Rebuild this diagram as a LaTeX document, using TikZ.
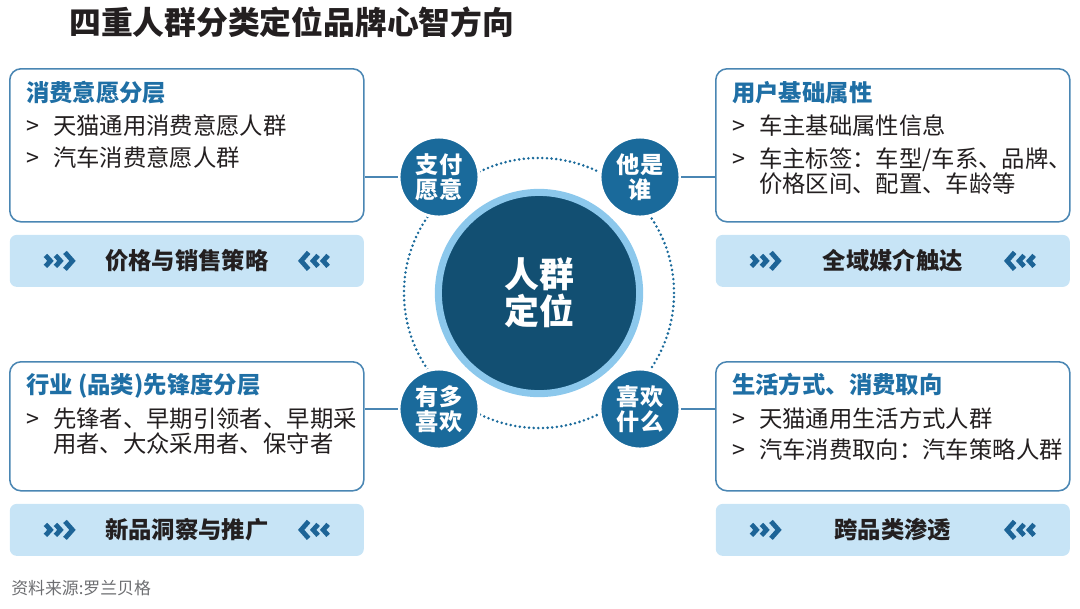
\documentclass[tikz,border=0pt]{standalone}
\usepackage{fontspec}
\setmainfont{Noto Sans CJK SC}
\definecolor{boxline}{HTML}{4A86B3}
\definecolor{headblue}{HTML}{1F6FA5}
\definecolor{dotblue}{HTML}{1A6A9B}
\definecolor{coreblue}{HTML}{124F72}
\definecolor{ringblue}{HTML}{8CC8EC}
\definecolor{barfill}{HTML}{C7E4F6}
\definecolor{chevblue}{HTML}{1D6497}
\definecolor{inkdark}{HTML}{231F20}
\definecolor{srcgray}{HTML}{6D6E71}
\usetikzlibrary{calc, positioning}
\newcommand{\itm}{>\hspace{0.6em}}
\newcommand{\chevrons}[2]{%
  \begin{scope}[shift={#1}, xscale=#2]
    \draw[chev] (0,-5.5) -- (5,0) -- (0,5.5);
    \draw[chev] (10,-5.5) -- (15,0) -- (10,5.5);
    \draw[chev] (19.5,-8.5) -- (27,0) -- (19.5,8.5);
  \end{scope}}

\begin{document}
\begin{tikzpicture}[x=0.025cm, y=-0.025cm,
  infobox/.style={draw=boxline, line width=1.1pt, fill=white, rounded corners=8pt,
                  minimum width=8.85cm, inner sep=0pt, anchor=north west},
  bar/.style={fill=barfill, rounded corners=5pt, minimum width=8.85cm,
              minimum height=1.3cm, text=inkdark,
              font=\fontsize{16.6}{18}\selectfont\bfseries},
  boxtext/.style={anchor=north west, inner sep=0pt, align=left, text=inkdark,
                  font=\fontsize{16.6}{17.7}\selectfont},
  smallc/.style={circle, fill=dotblue, draw=white, line width=2.1pt, minimum size=2cm,
                 inner sep=0pt, align=center, text=white,
                 font=\fontsize{16.5}{17.7}\selectfont\bfseries},
  core/.style={circle, fill=coreblue, draw=ringblue, line width=5pt, minimum size=5.03cm,
               inner sep=0pt, align=center, text=white,
               font=\fontsize{24.8}{26.2}\selectfont\bfseries},
  ring/.style={draw=dotblue, line width=2pt, line cap=round, dash pattern=on 0pt off 3.3pt},
  link/.style={draw=boxline, line width=1.1pt},
  chev/.style={draw=chevblue, line width=3.4pt},
]
\useasboundingbox (0,0) rectangle (1080,608);

\node[anchor=west, inner sep=0pt, text=inkdark, font=\fontsize{22.6}{24}\selectfont\bfseries]
  (title) at (69,22) {四重人群分类定位品牌心智方向};

\node[infobox, minimum height=3.825cm] (tl) at (9,68) {};
\node[infobox, minimum height=3.825cm] (tr) at (715,68) {};
\node[infobox, minimum height=3.225cm] (bl) at (9,361) {};
\node[infobox, minimum height=3.225cm] (br) at (715,361) {};

\node[boxtext] (tltxt) at ($(tl.north west)+(17,13)$) {
  {\bfseries\color{headblue}消费意愿分层}\\[5.7pt]
  \itm 天猫通用消费意愿人群\\[5pt]
  \itm 汽车消费意愿人群
};
\node[boxtext] (trtxt) at ($(tr.north west)+(17,13)$) {
  {\bfseries\color{headblue}用户基础属性}\\[5.7pt]
  \itm 车主基础属性信息\\[5.7pt]
  \itm 车主标签：车型/车系、品牌、\\
  \hphantom{\itm}价格区间、配置、车龄等
};
\node[boxtext] (bltxt) at ($(bl.north west)+(17,12)$) {
  {\bfseries\color{headblue}行业 (品类)先锋度分层}\\[6.5pt]
  \itm 先锋者、早期引领者、早期采\\
  \hphantom{\itm}用者、大众采用者、保守者
};
\node[boxtext] (brtxt) at ($(br.north west)+(17,12)$) {
  {\bfseries\color{headblue}生活方式、消费取向}\\[6.5pt]
  \itm 天猫通用生活方式人群\\[4.5pt]
  \itm 汽车消费取向：汽车策略人群
};

\node[bar, below=0.3cm of tl] (tlbar) {价格与销售策略};
\node[bar, below=0.3cm of tr] (trbar) {全域媒介触达};
\node[bar, below=0.3cm of bl] (blbar) {新品洞察与推广};
\node[bar, below=0.3cm of br] (brbar) {跨品类渗透};

\foreach \b in {tlbar, trbar, blbar, brbar} {
  \chevrons{($(\b.west)+(36,0)$)}{1}
  \chevrons{($(\b.east)+(-36,0)$)}{-1}
}

\coordinate (hub) at (539,293);
\draw[ring] (hub) circle[radius=3.375cm];
\node[core] (core) at (hub) {人群\\定位};

\node[smallc] (pay) at (439,177) {支付\\愿意};
\node[smallc] (who) at (640,177) {他是\\谁};
\node[smallc] (much) at (439,409) {有多\\喜欢};
\node[smallc] (what) at (640,409) {喜欢\\什么};

\draw[link] (pay.west) -- (pay.west -| tl.east);
\draw[link] (who.east) -- (who.east -| tr.west);
\draw[link] (much.west) -- (much.west -| bl.east);
\draw[link] (what.east) -- (what.east -| br.west);

\node[anchor=west, inner sep=0pt, text=srcgray, font=\fontsize{12}{13}\selectfont]
  (src) at (11,588) {资料来源:罗兰贝格};
\end{tikzpicture}
\end{document}
